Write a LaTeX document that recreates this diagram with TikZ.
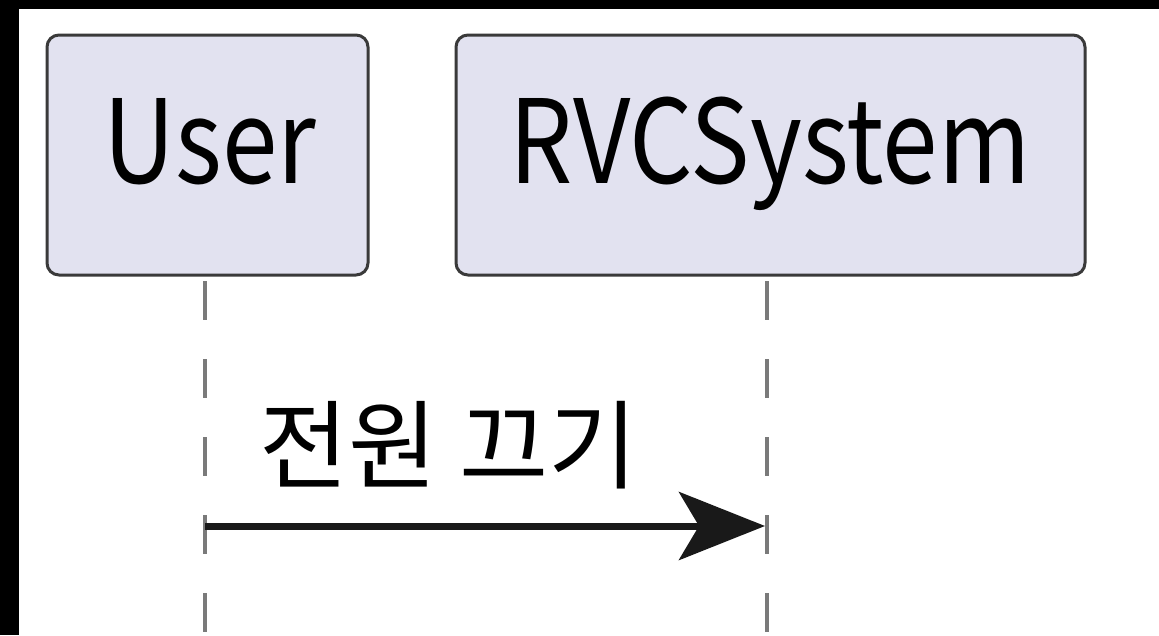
\documentclass[tikz,border=0pt]{standalone}
\usepackage{fontspec}
\setmainfont{Noto Sans CJK KR}
\usetikzlibrary{arrows.meta}
\definecolor{boxfill}{HTML}{E2E2F0}
\definecolor{boxline}{HTML}{3A3A3A}
\definecolor{lifeline}{HTML}{7A7A7A}
\newcommand{\ptxt}[1]{\scalebox{0.86}[1]{\fontsize{116}{120}\selectfont #1}}
\tikzset{
  partbox/.style={draw=boxline, fill=boxfill, line width=3pt, rounded corners=12pt},
  parttext/.style={anchor=base, inner sep=0pt},
  lifel/.style={draw=lifeline, line width=4pt, dash pattern=on 39pt off 39pt},
  msg/.style={draw=black!90, line width=7pt, -{Stealth[length=86pt,width=68pt,inset=20pt]}},
  msgtext/.style={anchor=base west, inner sep=0pt, font=\fontsize{97}{100}\selectfont}
}
\begin{document}
\begin{tikzpicture}[x=1pt,y=-1pt]
\useasboundingbox (0,0) rectangle (1159,635);
\fill[black] (0,0) rectangle (1159,635);
\fill[white] (19,9) rectangle (1159,635);
% participant boxes
\draw[partbox] (47,35) rectangle (368,275);
\draw[partbox] (456,35) rectangle (1085,275);
\node[parttext] (user) at (210,183) {\ptxt{User}};
\node[parttext] (rvc) at (770,183) {\ptxt{RVCSystem}};
% lifelines
\coordinate (ut) at (205,281);
\coordinate (ub) at (205,640);
\coordinate (rt) at (767,281);
\coordinate (rb) at (767,640);
\draw[lifel] (ut) -- (ub);
\draw[lifel] (rt) -- (rb);
% message
\coordinate (ua) at (205,526);
\coordinate (ra) at (765,526);
\draw[msg] (ua) -- (ra);
\node[msgtext] (lbl) at (259,481) {전원 끄기};
\end{tikzpicture}
\end{document}
